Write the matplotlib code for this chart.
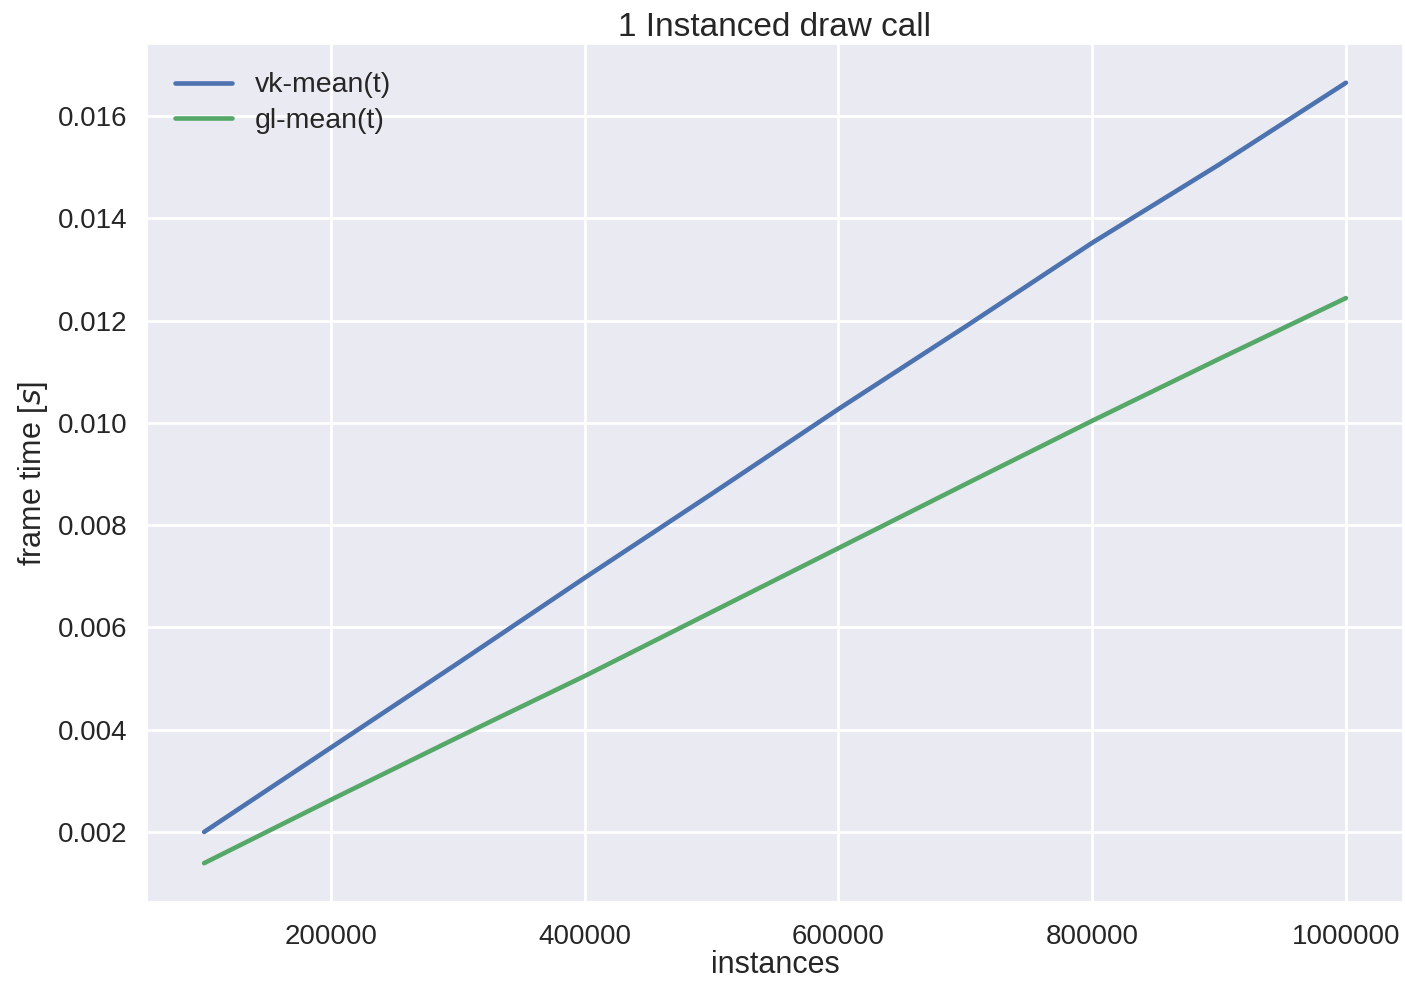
import matplotlib
matplotlib.use("Agg")
import matplotlib.pyplot as plt
import seaborn as sns

instances = [100000, 200000, 300000, 400000, 500000, 600000, 700000, 800000, 900000, 1000000]
vk_mean = [0.00200, 0.00365, 0.00530, 0.00697, 0.00861, 0.01027, 0.01188, 0.01352, 0.01505, 0.01665]
gl_mean = [0.00139, 0.00263, 0.00385, 0.00505, 0.00630, 0.00755, 0.00880, 0.01004, 0.01125, 0.01244]

sns.set_theme(style="darkgrid", palette="deep")
plt.rcParams['font.family'] = ['Arial', 'Liberation Sans', 'DejaVu Sans']

fig = plt.figure(figsize=(14.05, 9.82), dpi=100)
ax = fig.add_axes([147/1405, 1 - 902/982, (1403-147)/1405, (902-44)/982])
ax.plot(instances, vk_mean, label="vk-mean(t)", color="#4C72B0", linewidth=3.3)
ax.plot(instances, gl_mean, label="gl-mean(t)", color="#55A868", linewidth=3.3)

ax.set_xlim(55000, 1045000)
ax.set_ylim(0.000631, 0.017408)
ax.set_xticks([200000, 400000, 600000, 800000, 1000000])
ax.set_xticklabels(["200000", "400000", "600000", "800000", "1000000"])
ax.set_yticks([0.002, 0.004, 0.006, 0.008, 0.010, 0.012, 0.014, 0.016])
ax.set_yticklabels(["0.002", "0.004", "0.006", "0.008", "0.010", "0.012", "0.014", "0.016"])
ax.tick_params(axis='both', labelsize=20, colors='#262626')
ax.tick_params(axis='x', pad=10)
ax.tick_params(axis='y', pad=8)
for g in ax.get_xgridlines() + ax.get_ygridlines():
    g.set_linewidth(2)
ax.set_title("1 Instanced draw call", fontsize=24, color='#262626', pad=6)
ax.set_xlabel("instances", fontsize=22, color='#262626', labelpad=0)
ax.set_ylabel("frame time [$s$]", fontsize=22, color='#262626', labelpad=6)
leg = ax.legend(loc="upper left", fontsize=20.5, frameon=False, handlelength=2,
                handletextpad=0.8, labelspacing=0.35, borderaxespad=0.6)

fig.savefig("out.png", dpi=100)
